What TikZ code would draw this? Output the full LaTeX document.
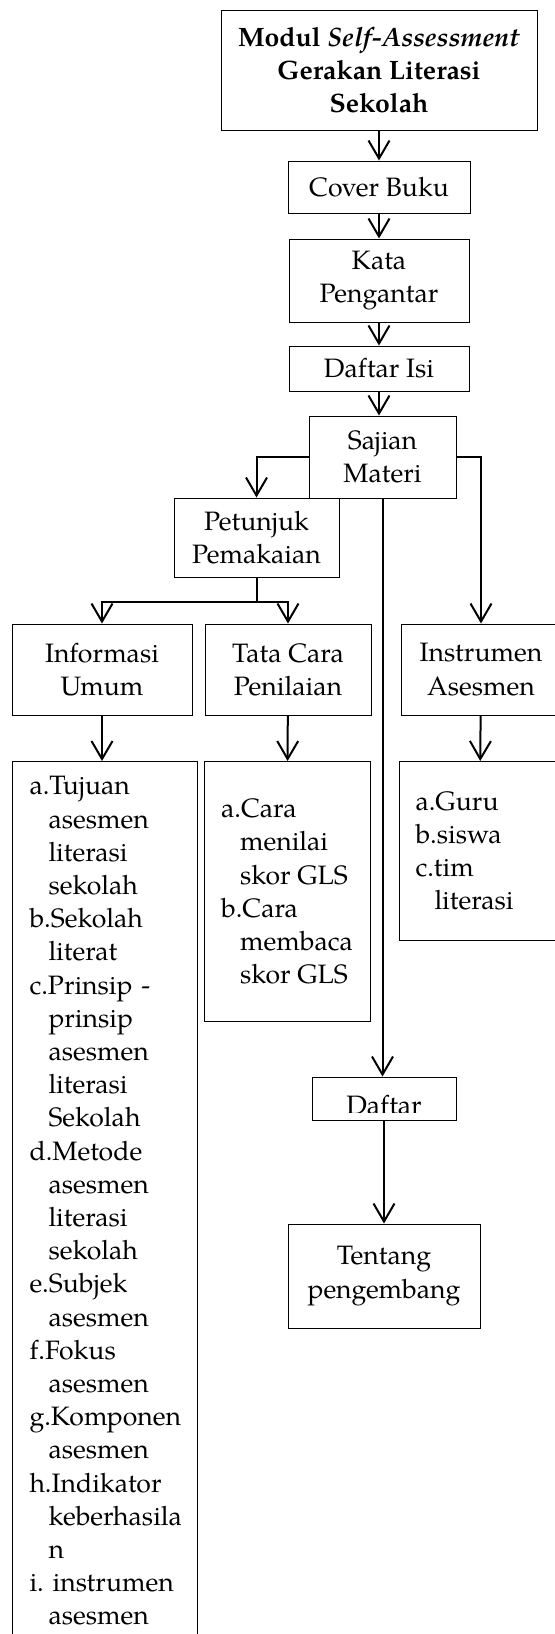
\documentclass[tikz,border=0pt]{standalone}
\usepackage{fontspec}
\setmainfont{TeX Gyre Pagella}
\usetikzlibrary{arrows.meta, positioning}
\hyphenpenalty=10000
\exhyphenpenalty=10000
\frenchspacing
\newcommand{\bodysize}{\fontsize{13.3}{16.6}\selectfont}
\newcommand{\lanjut}{\hspace*{9.5pt}}

\begin{document}
\begin{tikzpicture}[
    x=0.5pt, y=-0.5pt,
    font=\bodysize,
    node distance=12pt,
    card/.style={draw, line width=0.5pt, inner sep=0pt, align=center},
    head/.style={card, font=\bodysize\bfseries},
    items/.style={draw, line width=0.5pt, align=left},
    link/.style={line width=1pt, -{Straight Barb[length=9pt, width=10.5pt]}},
]
\useasboundingbox (0,0) rectangle (555,1634);

% === MAIN COLUMN ===
\node[head, minimum width=158pt, minimum height=60pt] (modul) at (379,70)
    {Modul \textit{Self-Assessment}\\Gerakan Literasi\\Sekolah};
\node[card, below=15pt of modul, minimum width=91pt, minimum height=26pt] (cover) {Cover Buku};
\node[card, below=12.5pt of cover, minimum width=90pt, minimum height=41.5pt] (kata) {Kata\\Pengantar};
\node[card, below=11.5pt of kata, minimum width=90pt, minimum height=22.5pt] (isi) {Daftar Isi};
\node[card, below=12pt of isi, xshift=1.75pt, minimum width=73.5pt, minimum height=41pt] (sajian) {Sajian\\Materi};

% === BRANCHES ===
\node[card, minimum width=82.5pt, minimum height=39.5pt] (petunjuk) at (256.5,537.5) {Petunjuk\\Pemakaian};
\node[card, minimum width=90pt, minimum height=45.5pt] (informasi) at (102,669.5) {Informasi\\Umum};
\node[card, right=6pt of informasi, minimum width=83pt, minimum height=45.5pt] (tata) {Tata Cara\\Penilaian};
\node[card, right=14.5pt of tata, minimum width=80pt, minimum height=45.5pt] (instrumen) {Instrumen\\Asesmen};

% === LISTS ===
\node[items, anchor=north west, text width=75.5pt, inner xsep=8.5pt, inner ysep=7.5pt] (infolist) at (12,761)
    {a.Tujuan\\ \lanjut asesmen\\ \lanjut literasi\\ \lanjut sekolah\\
     b.Sekolah\\ \lanjut literat\\
     c.Prinsip -\\ \lanjut prinsip\\ \lanjut asesmen\\ \lanjut literasi\\ \lanjut Sekolah\\
     d.Metode\\ \lanjut asesmen\\ \lanjut literasi\\ \lanjut sekolah\\
     e.Subjek\\ \lanjut asesmen\\
     f.Fokus\\ \lanjut asesmen\\
     g.Komponen\\ \lanjut asesmen\\
     h.Indikator\\ \lanjut keberhasila\\ \lanjut n\\
     i. instrumen\\ \lanjut asesmen\rule[-20pt]{0pt}{0pt}};
\node[items, anchor=north, minimum width=83pt, minimum height=130pt, inner sep=0pt] (tatalist) at (287,761)
    {a.Cara\\ \lanjut menilai\\ \lanjut skor GLS\\
     b.Cara\\ \lanjut membaca\\ \lanjut skor GLS};
\node[items, anchor=north west, text width=64pt, inner xsep=8pt, minimum height=89.5pt] (instlist) at (399,761)
    {a.Guru\\ b.siswa\\ c.tim\\ \lanjut literasi};

% === END OF BOOK ===
\node[card, minimum width=72pt, minimum height=21.5pt, path picture={
    \clip ([yshift=3.75pt]path picture bounding box.south west) rectangle (path picture bounding box.north east);
    \node[anchor=base] at ([yshift=-18.5pt]path picture bounding box.north) {Daftar};
  }] (daftar) at (384,1098.5) {};
\node[card, below=51.5pt of daftar, minimum width=96pt, minimum height=52pt] (tentang) {Tentang\\pengembang};

% Arrows
\draw[link] (modul) -- (cover);
\draw[link] (cover) -- (kata);
\draw[link] (kata) -- (isi);
\draw[link] (isi) -- (isi |- sajian.north);
\draw[link] (sajian.west) -| (petunjuk.north);
\draw[link] (sajian.east) -| (instrumen.north);
\draw[link] (sajian.south) -- (sajian.south |- daftar.north);
\draw[line width=1pt] (petunjuk.south) -- ++(0,-12pt) coordinate (fork);
\draw[link] (fork) -| (informasi.north);
\draw[link] (fork) -| (tata.north);
\draw[link] (informasi.south) -- (informasi.south |- infolist.north);
\draw[link] (tata) -- (tatalist);
\draw[link] (instrumen) -- (instlist);
\draw[link] (daftar) -- (tentang);

\end{tikzpicture}
\end{document}
